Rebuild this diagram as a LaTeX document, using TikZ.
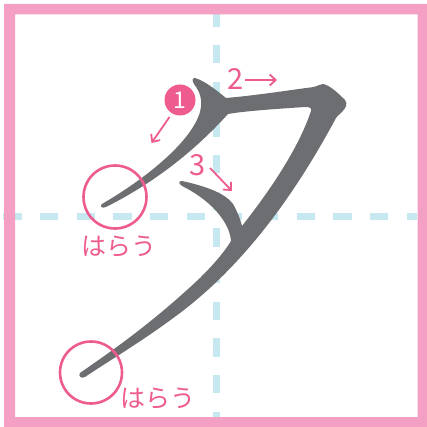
\documentclass[tikz,border=0pt]{standalone}
\usepackage{fontspec}
\newfontfamily\jpfont{Noto Sans CJK JP}
\usetikzlibrary{arrows.meta}
\definecolor{framepink}{HTML}{F4A0C5}
\definecolor{markpink}{HTML}{EE5C8F}
\definecolor{guideblue}{HTML}{C6E8F0}
\definecolor{glyphgray}{HTML}{6D6E71}
\tikzset{
  guide/.style={guideblue, line width=7pt, dash pattern=on 18.33pt off 18.33pt},
  hint/.style={markpink, line width=1.8pt, -{Straight Barb[length=6pt,width=11pt]}},
  ring/.style={markpink, line width=2.6pt},
  numlabel/.style={markpink, inner sep=0pt, font=\jpfont\fontsize{29}{32}\selectfont},
  harau/.style={markpink, inner sep=0pt, font=\jpfont\fontsize{25}{30}\selectfont},
}
\begin{document}
\begin{tikzpicture}[x=1pt,y=-1pt]
\useasboundingbox (0,0) rectangle (427,427);
\fill[white] (0,0) rectangle (427,427);
% guide lines
\draw[guide] (3.33,216.7) -- (417,216.7);
\draw[guide] (216.7,8.33) -- (216.7,417);
% frame
\fill[framepink, even odd rule] (4,4) rectangle (427,427) (15,14.5) rectangle (417.5,417);
% glyph
\fill[glyphgray]
 (195,78) .. controls (205,81) and (216,90) .. (226,98)
 .. controls (260,95) and (290,90) .. (314,87)
 .. controls (318,86) and (320,84) .. (323,84)
 .. controls (330,85) and (340,95) .. (345,100)
 .. controls (348,104) and (346,108) .. (341,113)
 .. controls (339,115) and (337,116) .. (336,118)
 .. controls (300,185) and (250,260) .. (180,313)
 .. controls (140,343) and (110,360) .. (85,377)
 .. controls (81,379) and (78,376) .. (80,373)
 .. controls (110,352) and (150,325) .. (200,278)
 .. controls (215,263) and (225,251) .. (231,241)
 .. controls (230,225) and (215,203) .. (184,187)
 .. controls (178,184) and (178,181) .. (182,181)
 .. controls (205,186) and (225,193) .. (233,204)
 .. controls (237,211) and (240,218) .. (242,226)
 .. controls (268,193) and (298,150) .. (311,111)
 .. controls (312,108) and (310,107) .. (305,107)
 .. controls (275,109) and (245,111) .. (228,114)
 .. controls (200,145) and (160,180) .. (106,207)
 .. controls (102,209) and (99,206) .. (102,204)
 .. controls (150,176) and (192,140) .. (200,112)
 .. controls (203,100) and (200,92) .. (194,84)
 .. controls (192,81) and (192,78) .. (195,78) -- cycle;
% circles marking harau
\draw[ring] (115,197) circle[radius=31.5pt];
\draw[ring] (91,372.5) circle[radius=31pt];
\node[harau] (h1) at (118.5,246.5) {はらう};
\node[harau] (h2) at (157.5,399) {はらう};
% stroke numbers
\fill[markpink] (180,100) circle[radius=15.5pt];
\node[inner sep=0pt, white, font=\jpfont\fontsize{23}{26}\selectfont] (n1) at (180,100) {1};
\node[numlabel] (n2) at (235.5,79) {2};
\node[numlabel] (n3) at (198,165) {3};
% direction arrows
\coordinate (a1s) at (169.5,117);
\coordinate (a1e) at (151.5,143);
\coordinate (a2s) at (245,80);
\coordinate (a2e) at (277,80);
\coordinate (a3s) at (210,168);
\coordinate (a3e) at (232,191);
\draw[hint] (a1s) -- (a1e);
\draw[hint] (a2s) -- (a2e);
\draw[hint] (a3s) -- (a3e);
\end{tikzpicture}
\end{document}
